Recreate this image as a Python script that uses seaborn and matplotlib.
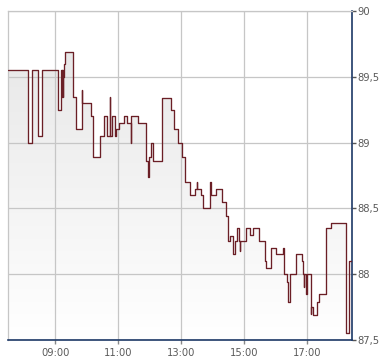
import numpy as np
import pandas as pd
import matplotlib
matplotlib.use("Agg")
import matplotlib.pyplot as plt
from matplotlib.colors import LinearSegmentedColormap
from matplotlib.ticker import FixedLocator, FuncFormatter
import seaborn as sns

# ---- data ----
times = ["07:30", "08:08", "08:16", "08:28", "08:35", "09:06", "09:11", "09:12", "09:13", "09:14",
         "09:15", "09:17", "09:19", "09:34", "09:39", "09:51", "09:52", "10:08", "10:12", "10:26",
         "10:33", "10:38", "10:44", "10:45", "10:49", "10:54", "10:56", "11:02", "11:11", "11:17",
         "11:24", "11:25", "11:38", "11:53", "11:57", "11:59", "12:03", "12:07", "12:24", "12:41",
         "12:46", "12:55", "13:02", "13:07", "13:17", "13:26", "13:30", "13:31", "13:37", "13:41",
         "13:56", "13:57", "14:06", "14:18", "14:25", "14:30", "14:33", "14:39", "14:42", "14:46",
         "14:51", "14:52", "14:53", "15:03", "15:11", "15:17", "15:29", "15:40", "15:42", "15:51",
         "16:00", "16:14", "16:17", "16:21", "16:24", "16:27", "16:39", "16:50", "16:52", "16:54",
         "16:55", "16:58", "17:00", "17:07", "17:08", "17:12", "17:19", "17:23", "17:37", "17:45",
         "18:14", "18:21", "18:26"]
prices = [89.55, 89.00, 89.55, 89.05, 89.55, 89.25, 89.55, 89.35, 89.55, 89.35,
          89.50, 89.60, 89.69, 89.35, 89.10, 89.40, 89.30, 89.20, 88.89, 89.05,
          89.20, 89.05, 89.35, 89.05, 89.20, 89.05, 89.10, 89.15, 89.20, 89.15,
          89.00, 89.20, 89.15, 88.86, 88.74, 88.89, 89.00, 88.86, 89.34, 89.25,
          89.10, 89.00, 88.89, 88.70, 88.60, 88.65, 88.70, 88.65, 88.60, 88.50,
          88.70, 88.60, 88.65, 88.55, 88.44, 88.25, 88.29, 88.15, 88.25, 88.35,
          88.25, 88.18, 88.25, 88.35, 88.30, 88.35, 88.25, 88.10, 88.05, 88.20,
          88.15, 88.20, 88.00, 87.94, 87.79, 88.00, 88.15, 88.10, 88.00, 87.90,
          88.00, 87.85, 88.00, 87.70, 87.75, 87.69, 87.79, 87.85, 88.35, 88.39,
          87.55, 88.10, 88.10]
x_tick_hours = [9, 11, 13, 15, 17]
x_tick_labels = ["09:00", "11:00", "13:00", "15:00", "17:00"]
y_ticks = [87.5, 88.0, 88.5, 89.0, 89.5, 90.0]

def to_hours(s):
    h, m = s.split(":")
    return int(h) + int(m) / 60.0

df = pd.DataFrame({"t": [to_hours(s) for s in times], "price": prices})

XMIN, XMAX = 7.5, 18.43
YMIN, YMAX = 87.5, 90.0

sns.set_style("white")
fig = plt.figure(figsize=(3.9, 3.64), dpi=100)
ax = fig.add_axes([8 / 390, 24 / 364, 344 / 390, 329 / 364])

# gradient fill under the step line
poly = ax.fill_between(df["t"], df["price"], YMIN, step="post", color="none", lw=0)
cmap = LinearSegmentedColormap.from_list("g", ["#ffffff", "#e5e5e5"])
grad = np.linspace(0, 1, 256).reshape(-1, 1)
img = ax.imshow(grad, extent=[XMIN, XMAX, YMIN, YMAX], origin="lower", aspect="auto",
                cmap=cmap, zorder=0.1)
img.set_clip_path(poly.get_paths()[0], transform=ax.transData)

sns.lineplot(data=df, x="t", y="price", drawstyle="steps-post", color="#6b1f26",
             linewidth=0.95, ax=ax, zorder=3)

ax.set_xlim(XMIN, XMAX)
ax.set_ylim(YMIN, YMAX)
ax.set_xlabel("")
ax.set_ylabel("")

ax.xaxis.set_major_locator(FixedLocator(x_tick_hours))
ax.set_xticklabels(x_tick_labels)
ax.yaxis.tick_right()
ax.yaxis.set_major_locator(FixedLocator(y_ticks))
ax.yaxis.set_major_formatter(FuncFormatter(lambda v, p: (("%g" % v).replace(".", ","))))

ax.set_axisbelow(True)
ax.grid(True, color="#c6c6c6", linewidth=0.9, zorder=0.5)

ax.tick_params(axis="x", which="both", bottom=True, length=3, width=1, color="#888888",
               labelsize=7.2, labelcolor="#5a5a5a", pad=3)
ax.tick_params(axis="y", which="both", right=True, left=False, length=3, width=1,
               color="#555555", labelsize=7.2, labelcolor="#5a5a5a", pad=1)

for side in ["left", "top"]:
    ax.spines[side].set_visible(True)
    ax.spines[side].set_color("#c6c6c6")
    ax.spines[side].set_linewidth(0.9)
for side in ["right", "bottom"]:
    ax.spines[side].set_visible(True)
    ax.spines[side].set_color("#1c3866")
    ax.spines[side].set_linewidth(1.2)

fig.savefig("out.png", dpi=100)
